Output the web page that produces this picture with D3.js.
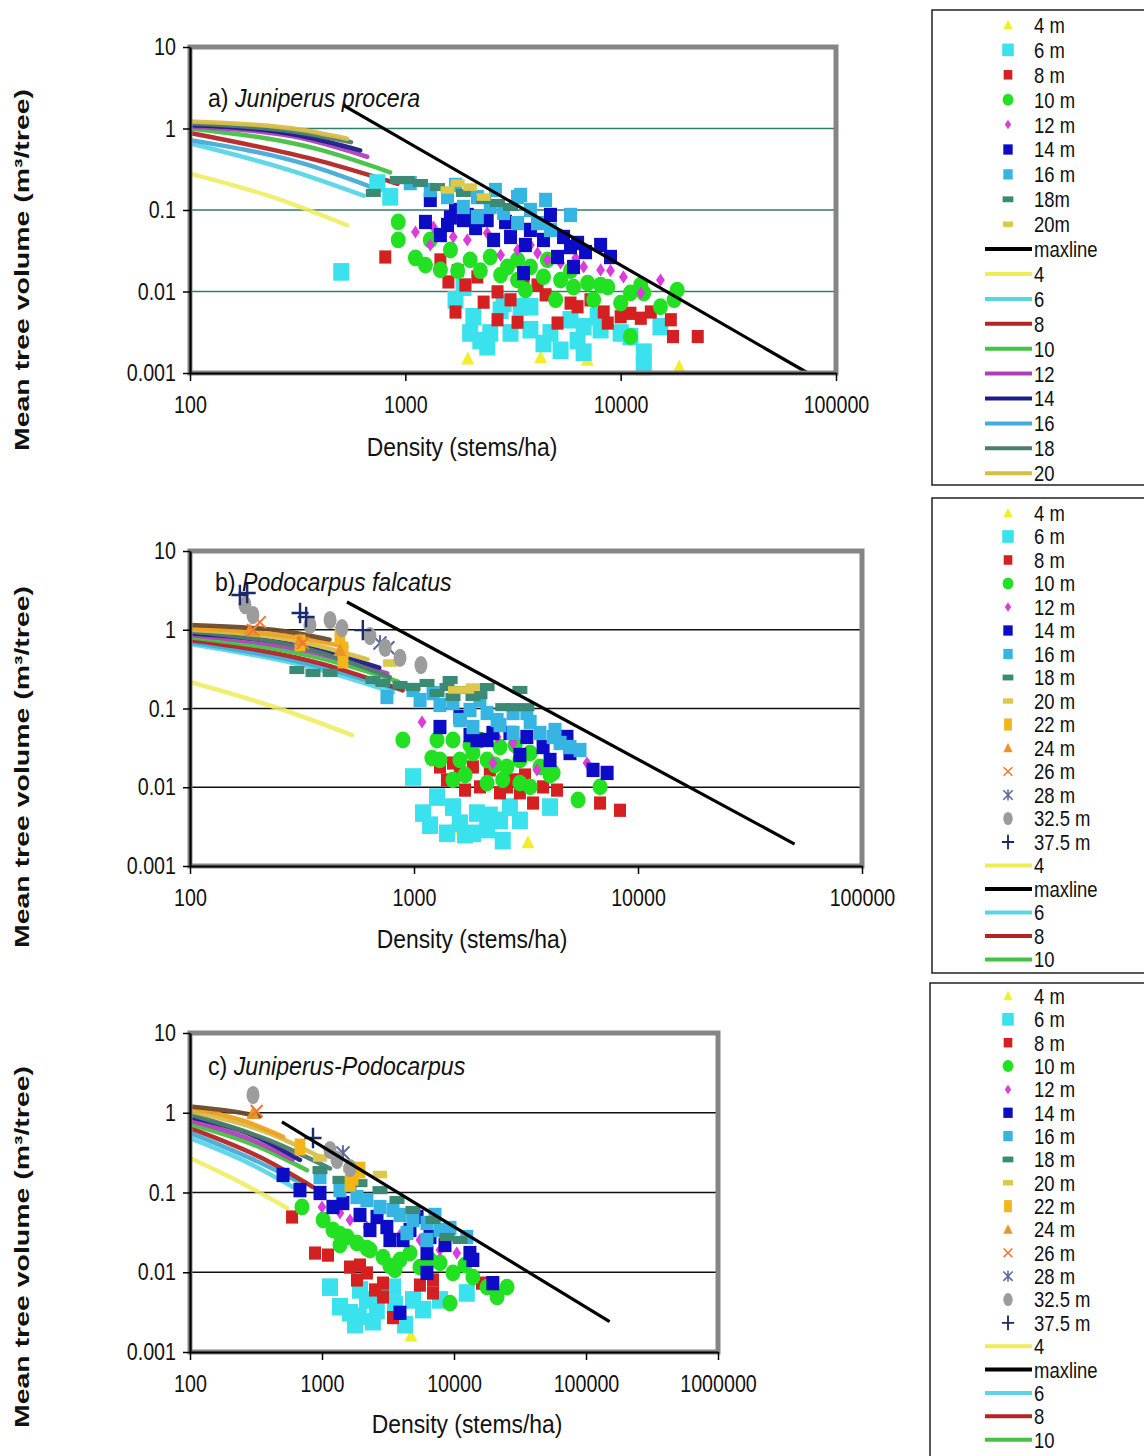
<!DOCTYPE html>
<html><head><meta charset="utf-8">
<script src="https://cdn.jsdelivr.net/npm/d3@7"></script>
<style>body{margin:0;background:#fff}svg{display:block}</style>
</head><body>
<svg id="fig" width="1144" height="1456"></svg>
<script>
// ---------- Panel a: Juniperus procera (density stems/ha, volume m3/tree) ----------
const jpA4  = [[1950,0.0015],[4250,0.00155],[7000,0.00145],[18700,0.0012]];
const jpA6  = [[504,0.0174],[851,0.145],[741,0.214],[1862,0.0113],[2070,0.0049],[2230,0.0025],[2480,0.0031],[3080,0.0031],[2400,0.0021],[3810,0.0065],[4380,0.0023],[4720,0.0031],[5850,0.0045],[6310,0.0025],[6730,0.0037],[7820,0.0049],[10000,0.0031],[11100,0.0028],[12800,0.0018],[12800,0.0012],[15300,0.0037],[6730,0.0018],[2000,0.0031],[2860,0.0072],[3430,0.0065],[1710,0.0079],[3810,0.0034],[8070,0.0034],[5260,0.0019],[2770,0.0059]];
const jpA8  = [[807,0.0265],[1455,0.0244],[1585,0.0131],[1710,0.0056],[2310,0.0074],[2680,0.0099],[2680,0.0045],[3320,0.0042],[2160,0.0151],[5090,0.0041],[5850,0.0072],[6310,0.0065],[8340,0.0056],[8710,0.0041],[10000,0.0049],[11100,0.0054],[13800,0.0056],[17100,0.0045],[17500,0.0028],[22800,0.0028],[4110,0.012],[3540,0.0151],[1750,0.018],[1900,0.012],[3080,0.0079],[4480,0.0091],[7240,0.0079],[12400,0.0047]];
const jpA10 = [[927,0.0713],[927,0.0429],[1240,0.0211],[1306,0.0429],[1620,0.0323],[2000,0.0244],[2480,0.0265],[2980,0.02],[3320,0.0138],[3810,0.02],[4380,0.0151],[5260,0.0138],[6040,0.0113],[7030,0.0127],[7490,0.0079],[8710,0.0113],[10000,0.0072],[11100,0.0096],[12800,0.0096],[15300,0.0065],[17700,0.0079],[18300,0.0104],[11100,0.0028],[1750,0.018],[2230,0.018],[3320,0.0244],[4570,0.0244],[5850,0.018],[1114,0.0258],[1455,0.0184],[2770,0.0159],[3610,0.0104],[4990,0.0079],[8070,0.012],[12400,0.012]];
const jpA12 = [[1114,0.0537],[1350,0.0618],[1670,0.0467],[1940,0.0429],[2400,0.0522],[3320,0.0323],[4110,0.0296],[5260,0.0224],[6730,0.02],[8970,0.018],[10300,0.0151],[12400,0.0096],[15300,0.0138],[4570,0.0244],[1306,0.0372],[2770,0.028],[3810,0.0372],[8070,0.0184],[6180,0.0258]];
const jpA14 = [[1306,0.133],[1240,0.0713],[1570,0.0655],[1940,0.0869],[2400,0.0754],[2570,0.0429],[3080,0.0467],[3810,0.057],[4380,0.0429],[5430,0.0467],[5850,0.0351],[6310,0.0394],[5090,0.0265],[6040,0.02],[3540,0.0168],[8970,0.0265],[1860,0.0754],[1620,0.081],[1455,0.0493],[1710,0.1],[2120,0.0601],[2920,0.0713],[3610,0.0372],[4720,0.0869],[6870,0.0305],[8070,0.0372]];
const jpA16 = [[1054,0.214],[1306,0.176],[1570,0.144],[1860,0.109],[2160,0.082],[2480,0.109],[2860,0.092],[3320,0.069],[3810,0.1],[4110,0.069],[4720,0.057],[3320,0.144],[2160,0.144],[1710,0.203],[2620,0.176],[4480,0.133],[5850,0.0869],[3430,0.153]];
const jpA18 = [[1020,0.233],[1175,0.214],[1410,0.191],[1860,0.162],[2310,0.133],[2680,0.122],[3080,0.109],[918,0.233],[710,0.162]];
const jpA20 = [[1750,0.214],[2000,0.191],[2310,0.144],[1570,0.176]];
const jpAfit4  = [[100,0.28],[250,0.14],[537,0.065]];
const jpAfit6  = [[100,0.66],[300,0.3],[640,0.15]];
const jpAfit8  = [[100,0.88],[400,0.4],[920,0.21]];
const jpAfit10 = [[100,1.0],[400,0.55],[850,0.29]];
const jpAfit12 = [[100,1.05],[300,0.8],[665,0.45]];
const jpAfit14 = [[100,1.1],[300,0.85],[617,0.54]];
const jpAfit16 = [[100,0.72],[350,0.36],[700,0.19]];
const jpAfit18 = [[100,1.15],[300,0.92],[560,0.68]];
const jpAfit20 = [[100,1.22],[300,1.0],[537,0.75]];
const jpAmax   = [[514,1.94],[74000,0.001]];

// ---------- Panel b: Podocarpus falcatus ----------
const pfB4  = [[1480,0.003],[3230,0.002]];
const pfB6  = [[990,0.0135],[1097,0.0047],[1267,0.0075],[1493,0.0056],[1604,0.0035],[1910,0.0047],[2120,0.0029],[2420,0.0038],[2680,0.0056],[2970,0.0038],[2490,0.0021],[4050,0.0056],[1833,0.0026],[1403,0.0026],[1180,0.0033],[1690,0.0025],[2180,0.0044]];
const pfB8  = [[1306,0.0181],[1493,0.0203],[1604,0.0152],[1833,0.0181],[1403,0.0124],[2420,0.0085],[2600,0.0101],[2770,0.0124],[2970,0.0085],[3400,0.0063],[3770,0.0101],[4350,0.0092],[6770,0.0063],[8310,0.0051],[1970,0.0101],[2180,0.0166],[3130,0.0143],[1690,0.0092]];
const pfB10 = [[892,0.0398],[1202,0.0235],[1493,0.0398],[1604,0.0222],[1833,0.0272],[2120,0.0222],[2420,0.0324],[2600,0.0181],[2970,0.0222],[3300,0.0272],[3650,0.0181],[2120,0.0113],[2490,0.0124],[3300,0.0101],[4180,0.0152],[5400,0.0069],[6770,0.0101],[1970,0.0398],[1267,0.0398],[1493,0.0124],[2970,0.0113],[1778,0.0344],[2300,0.0192],[2830,0.0344],[4050,0.0143],[1690,0.0143],[1306,0.0222]];
const pfB12 = [[1086,0.0674],[2350,0.0435],[2770,0.0365],[5130,0.0297],[5920,0.0203],[3540,0.0166],[2250,0.0203]];
const pfB14 = [[1306,0.0582],[1604,0.078],[1910,0.0398],[2120,0.0398],[2680,0.0489],[3190,0.0435],[3770,0.0324],[4050,0.0222],[4820,0.0435],[4970,0.0272],[6300,0.0166],[7280,0.0152],[2250,0.0489],[1778,0.046],[2970,0.0257]];
const pfB16 = [[757,0.14],[990,0.172],[1064,0.128],[1216,0.157],[1493,0.117],[1970,0.128],[2120,0.0877],[2350,0.0714],[2770,0.0877],[3190,0.0877],[3650,0.0489],[4180,0.0435],[4490,0.0365],[4970,0.0324],[5510,0.0297],[2770,0.0489],[1833,0.0582],[1604,0.0714],[1306,0.111],[1778,0.0957],[2420,0.0616],[3300,0.0674],[4260,0.0533]];
const pfB18 = [[300,0.308],[354,0.283],[422,0.283],[656,0.23],[727,0.211],[990,0.187],[1143,0.211],[1403,0.187],[1604,0.172],[2120,0.187],[2490,0.104],[2770,0.104],[3190,0.104],[1267,0.157],[1493,0.14],[1833,0.14],[866,0.199],[1450,0.23],[2970,0.172],[1970,0.148]];
const pfB20 = [[1726,0.172],[1833,0.187],[1524,0.172],[782,0.378]];
const pfB22 = [[482,0.553],[482,0.413],[310,0.68],[467,0.85]];
const pfB24 = [[185,0.99],[310,0.74],[467,0.55]];
const pfB26 = [[191,0.99],[205,1.25],[319,0.68]];
const pfB28 = [[705,0.68],[765,0.59]];
const pfB32 = [[176,2.06],[191,1.54],[343,1.15],[422,1.33],[477,1.05],[636,0.83],[743,0.59],[866,0.44],[1074,0.356]];
const pfB37 = [[167,2.76],[180,2.93],[310,1.63],[330,1.45],[591,0.99]];
const pfBfit4  = [[100,0.217],[250,0.1],[529,0.046]];
const pfBfit6  = [[100,0.66],[350,0.33],[805,0.16]];
const pfBfit8  = [[100,0.74],[400,0.36],[890,0.17]];
const pfBfit10 = [[100,0.8],[400,0.42],[850,0.22]];
const pfBfit12 = [[100,0.86],[350,0.52],[760,0.28]];
const pfBfit14 = [[100,0.9],[350,0.58],[700,0.33]];
const pfBfit16 = [[100,0.7],[350,0.36],[820,0.18]];
const pfBfit18 = [[100,0.95],[350,0.55],[780,0.25]];
const pfBfit20 = [[100,1.0],[300,0.72],[620,0.42]];
const pfBfit22 = [[100,1.05],[300,0.8],[500,0.6]];
const pfBfit24 = [[100,1.15],[250,0.98],[420,0.75]];
const pfBmax   = [[502,2.25],[50000,0.0019]];

// ---------- Panel c: Juniperus-Podocarpus ----------
const jcC4  = [[4720,0.0016]];
const jcC6  = [[1150,0.0065],[1368,0.0037],[1630,0.0031],[2190,0.0045],[2430,0.0024],[2900,0.0055],[3450,0.0065],[4890,0.0045],[5820,0.0034],[7830,0.0045],[12500,0.0055],[1900,0.0028],[2600,0.0033],[1780,0.0022],[3570,0.0039],[4260,0.0022],[1940,0.006]];
const jcC8  = [[593,0.0493],[885,0.0174],[1110,0.0164],[1630,0.0116],[1840,0.008],[2190,0.0098],[2900,0.0073],[2900,0.0049],[3450,0.0027],[6930,0.008],[6930,0.0055],[16300,0.0073],[1940,0.0123],[2520,0.006],[5520,0.0069]];
const jcC10 = [[705,0.0658],[1020,0.0452],[1210,0.0339],[1550,0.0277],[1840,0.0233],[2900,0.0155],[3900,0.0143],[4640,0.0174],[5520,0.0116],[7830,0.0131],[9820,0.0098],[13900,0.0087],[17800,0.0065],[25200,0.0065],[9330,0.0041],[21200,0.0049],[1368,0.03],[2190,0.02],[3270,0.012],[1368,0.022],[2310,0.019],[3570,0.0107],[6580,0.0143],[12100,0.0123]];
const jcC12 = [[1000,0.0658],[1368,0.0553],[1630,0.0452],[2190,0.0369],[5520,0.0254],[10500,0.0174],[2750,0.0553],[3900,0.0293],[7830,0.019]];
const jcC14 = [[507,0.166],[681,0.107],[966,0.0986],[1210,0.0658],[1440,0.0738],[2610,0.0493],[3270,0.0254],[4110,0.0254],[5250,0.0493],[6580,0.0277],[6240,0.0174],[6240,0.0098],[13200,0.0174],[13900,0.0143],[19700,0.0073],[3900,0.0031],[3100,0.0369],[1940,0.0523],[2310,0.0339],[4640,0.0339],[8550,0.022]];
const jcC16 = [[966,0.156],[1368,0.107],[1840,0.0878],[2190,0.0805],[2750,0.0658],[3450,0.0604],[4890,0.0452],[6240,0.0415],[7830,0.0339],[4400,0.031],[6240,0.0254],[12500,0.0277],[1630,0.124],[3900,0.0523],[7180,0.0523],[9330,0.0359]];
const jcC18 = [[2750,0.107],[3700,0.0805],[4890,0.0604],[6930,0.0452],[8850,0.0277],[11100,0.0254],[1940,0.131],[1368,0.144],[966,0.191]];
const jcC20 = [[966,0.271],[2750,0.168],[1630,0.2]];
const jcC22 = [[681,0.372],[1720,0.156],[1940,0.191],[1630,0.131]];
const jcC24 = [[300,0.99]];
const jcC26 = [[320,1.05]];
const jcC28 = [[1440,0.313]];
const jcC32 = [[300,1.67],[1150,0.341],[1300,0.256],[1630,0.203]];
const jcC37 = [[855,0.482]];
const jcCfit4  = [[100,0.271],[250,0.13],[543,0.064]];
const jcCfit6  = [[100,0.48],[300,0.22],[603,0.117]];
const jcCfit8  = [[100,0.64],[350,0.27],[855,0.117]];
const jcCfit10 = [[100,0.72],[350,0.36],[769,0.19]];
const jcCfit12 = [[100,0.8],[300,0.45],[600,0.26]];
const jcCfit14 = [[100,0.88],[300,0.52],[681,0.256]];
const jcCfit16 = [[100,0.56],[300,0.26],[700,0.13]];
const jcCfit18 = [[100,0.95],[400,0.45],[1150,0.2]];
const jcCfit20 = [[100,1.05],[400,0.55],[1000,0.27]];
const jcCfit22 = [[100,1.15],[250,0.8],[507,0.5]];
const jcCfit24 = [[100,1.2],[200,1.05],[338,0.9]];
const jcCmax   = [[497,0.77],[151000,0.0024]];

// tick values and labels
const yTicks = [0.001, 0.01, 0.1, 1, 10];
const yGrid = [0.01, 0.1, 1];
const xTicksAB = [100, 1000, 10000, 100000];
const xTicksC = [100, 1000, 10000, 100000, 1000000];
const legendA = ['4 m','6 m','8 m','10 m','12 m','14 m','16 m','18m','20m','maxline','4','6','8','10','12','14','16','18','20'];
const legendBC = ['4 m','6 m','8 m','10 m','12 m','14 m','16 m','18 m','20 m','22 m','24 m','26 m','28 m','32.5 m','37.5 m','4','maxline','6','8','10'];

// marker look per height class
const mark = {
  '4':   {shape:'tri',  c:'#f3ee2c', s:13},
  '6':   {shape:'sq',   c:'#3ae2ee', s:16},
  '8':   {shape:'sq',   c:'#d42020', s:12},
  '10':  {shape:'circ', c:'#22e022', s:15},
  '12':  {shape:'dia',  c:'#dd3cdd', s:11},
  '14':  {shape:'sq',   c:'#0c0cc6', s:13},
  '16':  {shape:'sq',   c:'#36b4e2', s:13},
  '18':  {shape:'dash', c:'#3a8a76', s:15},
  '20':  {shape:'dash', c:'#dcc84a', s:14},
  '22':  {shape:'rect', c:'#f2b61a', s:12},
  '24':  {shape:'tri',  c:'#e8962c', s:13},
  '26':  {shape:'x',    c:'#ee7a30', s:12},
  '28':  {shape:'ast',  c:'#5a6aa0', s:13},
  '32.5':{shape:'ell',  c:'#9c9c9c', s:13},
  '37.5':{shape:'plus', c:'#1a2a6a', s:17}
};
const lineColor = {'4':'#efec5a','6':'#58d6e6','8':'#b42424','10':'#46c046','12':'#b040b8','14':'#1c1c88',
  '16':'#46aad8','18':'#4d7d6d','20':'#d8bd45','22':'#f0a020','24':'#6a4a2a','max':'#000'};

const panels = [
  {title:['a) ','Juniperus procera'], tx:208, ty:107, xDom:[100,100000], xR:[190,836], yR:[373,47], xTicks:xTicksAB,
   grid:'#2f7d6d', yMid:270, xLab:[462,456],
   pts:[['4',jpA4],['6',jpA6],['8',jpA8],['10',jpA10],['12',jpA12],['14',jpA14],['16',jpA16],['18',jpA18],['20',jpA20]],
   fits:[['4',jpAfit4],['6',jpAfit6],['16',jpAfit16],['8',jpAfit8],['10',jpAfit10],['12',jpAfit12],['14',jpAfit14],['18',jpAfit18],['20',jpAfit20]],
   max:jpAmax},
  {title:['b) ','Podocarpus falcatus'], tx:215, ty:591, xDom:[100,100000], xR:[190,862], yR:[866,551], xTicks:xTicksAB,
   grid:'#111', yMid:767, xLab:[472,948],
   pts:[['4',pfB4],['6',pfB6],['8',pfB8],['10',pfB10],['12',pfB12],['14',pfB14],['16',pfB16],['18',pfB18],['20',pfB20],['22',pfB22],['24',pfB24],['26',pfB26],['28',pfB28],['32.5',pfB32],['37.5',pfB37]],
   fits:[['4',pfBfit4],['6',pfBfit6],['16',pfBfit16],['8',pfBfit8],['10',pfBfit10],['12',pfBfit12],['14',pfBfit14],['18',pfBfit18],['20',pfBfit20],['22',pfBfit22],['24',pfBfit24]],
   max:pfBmax},
  {title:['c) ','Juniperus-Podocarpus'], tx:208, ty:1075, xDom:[100,1000000], xR:[190,718], yR:[1352,1033], xTicks:xTicksC,
   grid:'#111', yMid:1247, xLab:[467,1433],
   pts:[['4',jcC4],['6',jcC6],['8',jcC8],['10',jcC10],['12',jcC12],['14',jcC14],['16',jcC16],['18',jcC18],['20',jcC20],['22',jcC22],['24',jcC24],['26',jcC26],['28',jcC28],['32.5',jcC32],['37.5',jcC37]],
   fits:[['4',jcCfit4],['6',jcCfit6],['16',jcCfit16],['8',jcCfit8],['10',jcCfit10],['12',jcCfit12],['14',jcCfit14],['18',jcCfit18],['20',jcCfit20],['22',jcCfit22],['24',jcCfit24]],
   max:jcCmax}
];

const FONT = "'Liberation Sans',Arial,sans-serif";
const svg = d3.select('#fig');

// horizontally condensed text placed at (x,y)
function ctext(g, x, y, str, size, sx, anchor) {
  return g.append('text').attr('transform', `translate(${x},${y}) scale(${sx},1)`)
    .attr('text-anchor', anchor || 'start').attr('font-family', FONT)
    .attr('font-size', size).attr('fill', '#111').text(str);
}

// draws one marker of a height class centred on (x,y)
function drawMarker(g, key, x, y, k) {
  const m = mark[key], s = m.s * k, h = s / 2;
  switch (m.shape) {
    case 'tri':  g.append('path').attr('d', `M${x},${y-h*1.1}L${x+h},${y+h*0.9}L${x-h},${y+h*0.9}Z`).attr('fill', m.c); break;
    case 'sq':   g.append('rect').attr('x', x-h).attr('y', y-h*1.1).attr('width', s).attr('height', s*1.1).attr('fill', m.c); break;
    case 'rect': g.append('rect').attr('x', x-h*0.9).attr('y', y-h*1.4).attr('width', s*0.9).attr('height', s*1.4).attr('fill', m.c); break;
    case 'circ': g.append('ellipse').attr('cx', x).attr('cy', y).attr('rx', h).attr('ry', h*1.12).attr('fill', m.c); break;
    case 'ell':  g.append('ellipse').attr('cx', x).attr('cy', y).attr('rx', h).attr('ry', h*1.4).attr('fill', m.c); break;
    case 'dia':  g.append('path').attr('d', `M${x},${y-h*1.2}L${x+h*0.8},${y}L${x},${y+h*1.2}L${x-h*0.8},${y}Z`).attr('fill', m.c); break;
    case 'dash': g.append('rect').attr('x', x-h).attr('y', y-s*0.27).attr('width', s).attr('height', s*0.54).attr('fill', m.c); break;
    case 'x':    g.append('path').attr('d', `M${x-h},${y-h}L${x+h},${y+h}M${x+h},${y-h}L${x-h},${y+h}`).attr('stroke', m.c).attr('stroke-width', 1.6*k+0.4); break;
    case 'ast':  g.append('path').attr('d', `M${x-h},${y-h}L${x+h},${y+h}M${x+h},${y-h}L${x-h},${y+h}M${x},${y-h*1.2}L${x},${y+h*1.2}`).attr('stroke', m.c).attr('stroke-width', 1.6*k+0.4); break;
    case 'plus': g.append('path').attr('d', `M${x-h},${y}L${x+h},${y}M${x},${y-h*1.2}L${x},${y+h*1.2}`).attr('stroke', m.c).attr('stroke-width', 2*k+0.4); break;
  }
}

panels.forEach(p => {
  const x = d3.scaleLog().domain(p.xDom).range(p.xR);
  const y = d3.scaleLog().domain([0.001, 10]).range(p.yR);
  const g = svg.append('g');
  const [x0, x1] = p.xR, [yb, yt] = p.yR;

  // horizontal gridlines
  g.selectAll('line.grid').data(yGrid).join('line')
    .attr('x1', x0).attr('x2', x1).attr('y1', d => y(d)).attr('y2', d => y(d))
    .attr('stroke', p.grid).attr('stroke-width', 1.6);

  // fitted curves per height class
  const line = d3.line().x(d => x(d[0])).y(d => y(d[1])).curve(d3.curveMonotoneX);
  p.fits.forEach(([k, arr]) => {
    g.append('path').attr('d', line(arr)).attr('fill', 'none')
      .attr('stroke', lineColor[k]).attr('stroke-width', 4.5).attr('stroke-linecap', 'round')
      .attr('opacity', k === '4' ? 0.85 : 0.95);
  });

  // observed plots
  p.pts.forEach(([k, arr]) => {
    const gg = g.append('g');
    arr.forEach(d => drawMarker(gg, k, x(d[0]), y(d[1]), 1));
  });

  // self-thinning maximum line
  g.append('path').attr('d', d3.line().x(d => x(d[0])).y(d => y(d[1]))(p.max))
    .attr('stroke', '#000').attr('stroke-width', 3.2).attr('fill', 'none');

  // plot-area frame
  g.append('rect').attr('x', x0).attr('y', yt).attr('width', x1 - x0).attr('height', yb - yt)
    .attr('fill', 'none').attr('stroke', '#858585').attr('stroke-width', 5);

  // axes
  const SX = 0.82;
  const ya = g.append('g').attr('transform', `translate(${x0},0)`)
    .call(d3.axisLeft(y).tickValues(yTicks).tickFormat(d => String(d)).tickSize(7).tickSizeOuter(0).tickPadding(7));
  const xa = g.append('g').attr('transform', `translate(0,${yb})`)
    .call(d3.axisBottom(x).tickValues(p.xTicks).tickFormat(d => String(d)).tickSize(8).tickSizeOuter(0).tickPadding(15));
  [ya, xa].forEach(a => {
    a.select('.domain').attr('stroke', '#000').attr('stroke-width', 2.2);
    a.selectAll('.tick line').attr('stroke', '#000').attr('stroke-width', 1.5);
    a.selectAll('text').attr('font-family', FONT).attr('font-size', 24).attr('fill', '#111')
      .attr('transform', `scale(${SX},1)`);
  });
  ya.selectAll('text').attr('x', -14 / SX);

  // panel title
  const t = ctext(g, p.tx, p.ty, null, 26, 0.89);
  t.append('tspan').text(p.title[0]);
  t.append('tspan').attr('font-style', 'italic').text(p.title[1]);

  // axis titles
  ctext(g, p.xLab[0], p.xLab[1], 'Density (stems/ha)', 26, 0.88, 'middle');
  g.append('text').attr('transform', `translate(29,${p.yMid}) rotate(-90)`).attr('text-anchor', 'middle')
    .attr('font-family', FONT).attr('font-weight', 'bold')
    .attr('font-size', 21).attr('fill', '#111')
    .attr('textLength', 362).attr('lengthAdjust', 'spacingAndGlyphs')
    .text('Mean tree volume  (m³/tree)');
});

// legends
const legends = [
  {box:[932,10,240,475], y0:25, step:24.9, labels:legendA,
   keys:['4','6','8','10','12','14','16','18','20','max','4','6','8','10','12','14','16','18','20'], nMark:9},
  {box:[932,498,240,475], y0:513, step:23.5, labels:legendBC,
   keys:['4','6','8','10','12','14','16','18','20','22','24','26','28','32.5','37.5','4','max','6','8','10'], nMark:15},
  {box:[930,983,240,490], y0:996, step:23.35, labels:legendBC,
   keys:['4','6','8','10','12','14','16','18','20','22','24','26','28','32.5','37.5','4','max','6','8','10'], nMark:15}
];
legends.forEach(L => {
  const g = svg.append('g');
  g.append('rect').attr('x', L.box[0]).attr('y', L.box[1]).attr('width', L.box[2]).attr('height', L.box[3])
    .attr('fill', '#fff').attr('stroke', '#222').attr('stroke-width', 1.5);
  L.labels.forEach((lab, i) => {
    const yy = L.y0 + i * L.step, k = L.keys[i];
    if (i < L.nMark) drawMarker(g, k, 1008, yy, 0.72);
    else g.append('line').attr('x1', 985).attr('x2', 1032).attr('y1', yy).attr('y2', yy)
      .attr('stroke', lineColor[k]).attr('stroke-width', 4);
    ctext(g, 1034, yy, lab, 22, 0.84).attr('dy', '0.36em');
  });
});
</script>
</body></html>
